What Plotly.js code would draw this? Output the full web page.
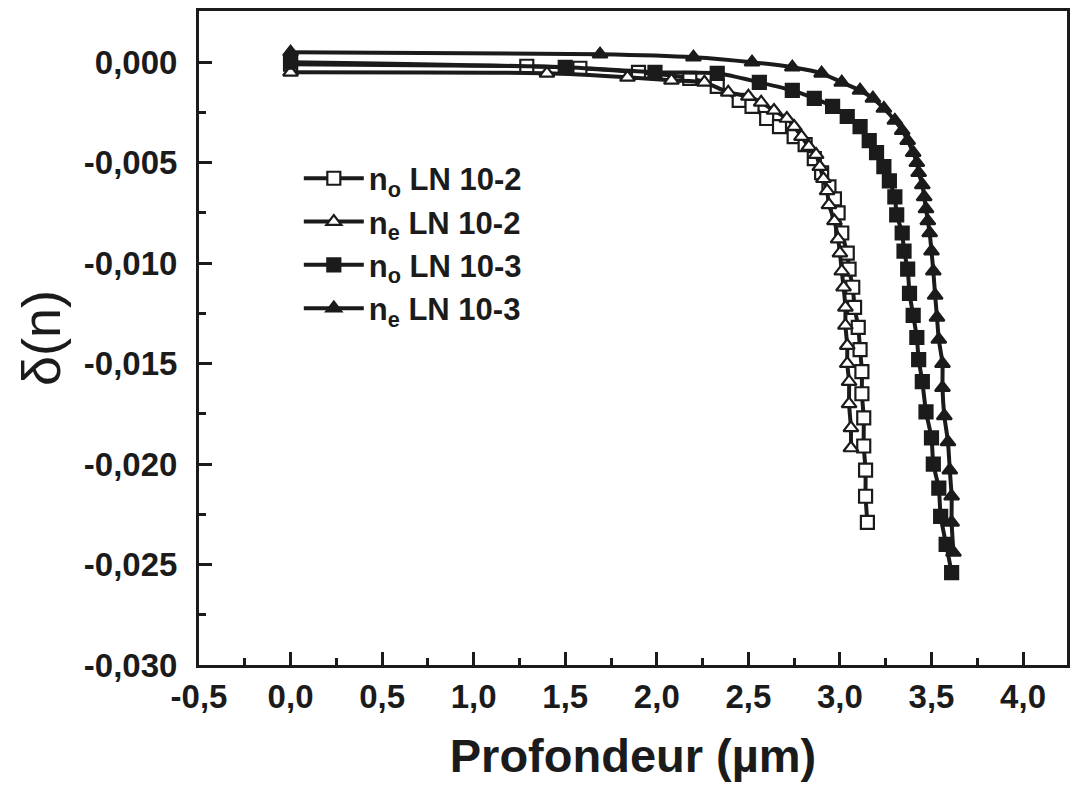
<!DOCTYPE html>
<html>
<head>
<meta charset="utf-8">
<script src="https://cdn.plot.ly/plotly-3.0.1.min.js"></script>
<style>html,body{margin:0;padding:0;background:#fff;}#chart{width:1071px;height:786px;}</style>
</head>
<body>
<div id="chart"></div>
<script>
// no LN 10-2 (open squares)
const noLN102_x = [0.00, 1.29, 1.58, 1.90, 2.18, 2.33, 2.45, 2.52, 2.60, 2.67, 2.75, 2.81, 2.86, 2.90, 2.94, 2.97, 2.99, 3.01, 3.04, 3.05, 3.07, 3.08, 3.10, 3.11, 3.12, 3.12, 3.13, 3.13, 3.14, 3.14, 3.15];
const noLN102_y = [-0.0001, -0.0002, -0.0003, -0.0005, -0.0008, -0.0012, -0.0019, -0.0022, -0.0028, -0.0032, -0.0037, -0.0041, -0.0048, -0.0055, -0.0062, -0.0068, -0.0075, -0.0085, -0.0095, -0.0103, -0.0112, -0.0122, -0.0132, -0.0143, -0.0154, -0.0165, -0.0177, -0.0191, -0.0203, -0.0216, -0.0229];

// ne LN 10-2 (open triangles)
const neLN102_x = [0.00, 1.40, 1.84, 2.08, 2.26, 2.39, 2.50, 2.57, 2.64, 2.71, 2.75, 2.79, 2.83, 2.87, 2.89, 2.91, 2.93, 2.94, 2.97, 2.99, 3.00, 3.01, 3.02, 3.03, 3.03, 3.04, 3.04, 3.05, 3.05, 3.06, 3.06];
const neLN102_y = [-0.0005, -0.00055, -0.00075, -0.0009, -0.0010, -0.0015, -0.0017, -0.0020, -0.0024, -0.0028, -0.0032, -0.0037, -0.0042, -0.0046, -0.0052, -0.0058, -0.0064, -0.0071, -0.0079, -0.0088, -0.0095, -0.0104, -0.0112, -0.0122, -0.0131, -0.0141, -0.0150, -0.0159, -0.0170, -0.0182, -0.0192];

// no LN 10-3 (filled squares)
const noLN103_x = [0.00, 1.50, 1.99, 2.33, 2.56, 2.74, 2.86, 2.96, 3.04, 3.11, 3.16, 3.20, 3.24, 3.27, 3.30, 3.31, 3.34, 3.35, 3.37, 3.38, 3.40, 3.42, 3.43, 3.45, 3.47, 3.50, 3.51, 3.54, 3.55, 3.58, 3.61];
const noLN103_y = [0.0000, -0.00025, -0.0005, -0.00055, -0.0010, -0.0014, -0.0018, -0.0022, -0.0027, -0.0032, -0.0039, -0.0045, -0.0052, -0.0059, -0.0067, -0.0076, -0.0085, -0.0094, -0.0103, -0.0115, -0.0126, -0.0137, -0.0148, -0.0159, -0.0174, -0.0187, -0.0200, -0.0212, -0.0226, -0.0240, -0.0254];

// ne LN 10-3 (filled triangles)
const neLN103_x = [0.00, 1.69, 2.20, 2.52, 2.74, 2.90, 3.01, 3.11, 3.18, 3.24, 3.30, 3.34, 3.37, 3.40, 3.42, 3.43, 3.45, 3.46, 3.47, 3.48, 3.49, 3.50, 3.51, 3.52, 3.53, 3.54, 3.56, 3.56, 3.57, 3.59, 3.60, 3.61, 3.61, 3.62];
const neLN103_y = [0.0005, 0.0004, 0.00025, 0.0000, -0.00025, -0.00055, -0.0010, -0.0014, -0.0018, -0.0023, -0.0029, -0.0034, -0.0039, -0.0045, -0.0050, -0.0055, -0.0061, -0.0067, -0.0073, -0.0079, -0.0085, -0.0094, -0.0104, -0.0116, -0.0127, -0.0138, -0.0150, -0.0162, -0.0176, -0.0189, -0.0203, -0.0216, -0.0229, -0.0244];

const seriesNames = ['n<sub>o</sub> LN 10-2', 'n<sub>e</sub> LN 10-2', 'n<sub>o</sub> LN 10-3', 'n<sub>e</sub> LN 10-3'];

const xTickVals = [-0.5, 0, 0.5, 1, 1.5, 2, 2.5, 3, 3.5, 4];
const xTickText = ['-0,5', '0,0', '0,5', '1,0', '1,5', '2,0', '2,5', '3,0', '3,5', '4,0'];
const yTickVals = [0, -0.005, -0.01, -0.015, -0.02, -0.025, -0.03];
const yTickText = ['0,000', '-0,005', '-0,010', '-0,015', '-0,020', '-0,025', '-0,030'];

const ink = '#1b1b1b';
const fam = 'Liberation Sans, Arial, sans-serif';
function tr(x, y, name, symbol, fill) {
  return {
    x: x, y: y, name: name, type: 'scatter', mode: 'lines+markers',
    line: {color: ink, width: 4, shape: 'spline', smoothing: 0.6},
    marker: {symbol: symbol, size: 13, color: fill, line: {color: ink, width: 2.2}}
  };
}
const data = [
  tr(noLN102_x, noLN102_y, seriesNames[0], 'square', '#ffffff'),
  tr(neLN102_x, neLN102_y, seriesNames[1], 'triangle-up', '#ffffff'),
  tr(noLN103_x, noLN103_y, seriesNames[2], 'square', ink),
  tr(neLN103_x, neLN103_y, seriesNames[3], 'triangle-up', ink)
];

const tickFont = {family: fam, size: 33, color: ink, weight: 'bold'};
const layout = {
  width: 1071, height: 786,
  margin: {l: 199, r: 4, t: 11, b: 121},
  paper_bgcolor: '#ffffff', plot_bgcolor: '#ffffff',
  showlegend: true,
  legend: {
    x: 0.115, y: 0.785, xanchor: 'left', yanchor: 'top',
    bgcolor: 'rgba(0,0,0,0)', borderwidth: 0,
    font: {family: fam, size: 31, color: ink, weight: 'bold'},
    tracegroupgap: 0, itemwidth: 60
  },
  xaxis: {
    range: [-0.5, 4.24], showgrid: false, zeroline: false,
    showline: true, linecolor: ink, linewidth: 3, mirror: true,
    ticks: 'inside', ticklen: 13, tickwidth: 3, tickcolor: ink,
    tickvals: xTickVals, ticktext: xTickText, tickfont: tickFont,
    minor: {dtick: 0.25, ticks: 'inside', ticklen: 7, tickwidth: 3, tickcolor: ink},
    title: {text: 'Profondeur (µm)', font: {family: fam, size: 47, color: ink, weight: 'bold'}, standoff: 26}
  },
  yaxis: {
    range: [-0.030, 0.00255], showgrid: false, zeroline: false,
    showline: true, linecolor: ink, linewidth: 3, mirror: true,
    ticks: 'inside', ticklen: 13, tickwidth: 3, tickcolor: ink,
    tickvals: yTickVals, ticktext: yTickText, tickfont: tickFont,
    minor: {dtick: 0.0025, ticks: 'inside', ticklen: 7, tickwidth: 3, tickcolor: ink},
    ticklabelstandoff: 12,
    title: {text: 'δ(n)', font: {family: fam, size: 54, color: ink}, standoff: 6}
  }
};
Plotly.newPlot('chart', data, layout, {displayModeBar: false, staticPlot: true});
</script>
</body>
</html>
